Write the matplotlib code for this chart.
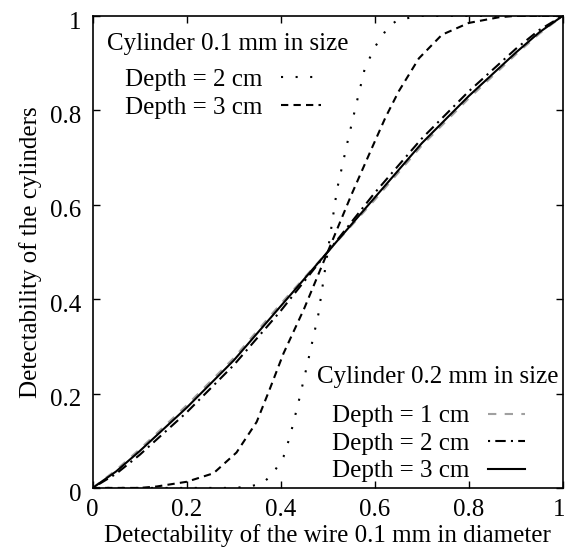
import matplotlib
matplotlib.use("Agg")
import matplotlib.pyplot as plt
import matplotlib.transforms as mtransforms

plt.rcParams['font.family'] = ['Liberation Serif', 'DejaVu Serif']
plt.rcParams['font.size'] = 18

# Cylinder 0.1 mm, depth 2 cm (dotted)
x_c01_d2 = [0, 0.30, 0.335, 0.363, 0.384, 0.406, 0.42, 0.438, 0.456, 0.48, 0.50,
            0.52, 0.544, 0.562, 0.579, 0.601, 0.629, 0.65, 0.70, 1.0]
y_c01_d2 = [0, 0, 0.003, 0.011, 0.031, 0.066, 0.11, 0.182, 0.259, 0.367, 0.5,
            0.633, 0.741, 0.818, 0.889, 0.935, 0.977, 0.992, 1.0, 1.0]

# Cylinder 0.1 mm, depth 3 cm (dashed)
x_c01_d3 = [0, 0.10, 0.136, 0.2, 0.257, 0.306, 0.349, 0.377, 0.406, 0.45, 0.5,
            0.55, 0.594, 0.623, 0.651, 0.694, 0.743, 0.8, 0.864, 0.9, 1.0]
y_c01_d3 = [0, 0, 0.003, 0.013, 0.031, 0.075, 0.14, 0.21, 0.285, 0.38, 0.5,
            0.62, 0.72, 0.785, 0.84, 0.91, 0.96, 0.985, 0.997, 1.0, 1.0]

# Cylinder 0.2 mm, depths 1/2/3 cm
x_c02 = [0, 0.05, 0.1, 0.2, 0.3, 0.4, 0.5, 0.6, 0.7, 0.8, 0.9, 0.95, 1.0]
y_c02_d1 = [0, 0.038, 0.082, 0.175, 0.275, 0.39, 0.5, 0.61, 0.725, 0.825, 0.918, 0.962, 1.0]
y_c02_d2 = [0, 0.030, 0.070, 0.160, 0.260, 0.375, 0.5, 0.625, 0.740, 0.840, 0.930, 0.970, 1.0]
y_c02_d3 = [0, 0.035, 0.078, 0.170, 0.270, 0.385, 0.5, 0.615, 0.730, 0.830, 0.922, 0.965, 1.0]

ticks = [0, 0.2, 0.4, 0.6, 0.8, 1]
tick_labels = ['0', '0.2', '0.4', '0.6', '0.8', '1']

fig = plt.figure(figsize=(5.65, 5.47), dpi=100)
ax = fig.add_axes([0.164, 0.108, 0.832, 0.863])

l_g1, = ax.plot(x_c02, y_c02_d1, color='#a0a0a0', lw=1.5, dashes=(4, 4))
l_d2, = ax.plot(x_c01_d2, y_c01_d2, color='black', lw=1.5, dashes=(1, 6))
l_d3, = ax.plot(x_c01_d3, y_c01_d3, color='black', lw=1.5, dashes=(3.5, 2.5))
l_g2, = ax.plot(x_c02, y_c02_d2, color='black', lw=1.5, dashes=(1, 2.5, 5, 2.5))
l_g3, = ax.plot(x_c02, y_c02_d3, color='black', lw=1.5)

ax.set_xlim(0, 1)
ax.set_ylim(0, 1)
ax.set_xticks(ticks)
ax.set_xticklabels(tick_labels)
ax.set_yticks(ticks)
ax.set_yticklabels(tick_labels)
ax.tick_params(direction='in', top=True, right=True, length=5, width=1)
ax.tick_params(axis='x', pad=8)
ax.tick_params(axis='y', pad=8)
for s in ax.spines.values():
    s.set_linewidth(1.2)

# gnuplot-like small offsets of the tick labels
down = mtransforms.ScaledTranslation(0, -3 / 72, fig.dpi_scale_trans)
for lab in ax.get_yticklabels():
    lab.set_transform(lab.get_transform() + down)
left = mtransforms.ScaledTranslation(-2.5 / 72, 0, fig.dpi_scale_trans)
last = ax.get_xticklabels()[-1]
last.set_transform(last.get_transform() + left)

ax.set_xlabel('Detectability of the wire 0.1 mm in diameter', labelpad=2)
ax.set_ylabel('Detectability of the cylinders', labelpad=6)

# legend for the 0.1 mm cylinder
ax.text(0.031, 0.928, 'Cylinder 0.1 mm in size', transform=ax.transAxes,
        ha='left', va='baseline')
leg1 = ax.legend([l_d2, l_d3], ['Depth = 2 cm', 'Depth = 3 cm'],
                 loc='upper left', bbox_to_anchor=(0.069, 0.888),
                 markerfirst=False, frameon=False, borderpad=0, borderaxespad=0,
                 handlelength=1.6, handletextpad=0.75, labelspacing=0.2,
                 fontsize=18)
ax.add_artist(leg1)

# legend for the 0.2 mm cylinder
ax.text(0.992, 0.222, 'Cylinder 0.2 mm in size', transform=ax.transAxes,
        ha='right', va='baseline')
ax.legend([l_g1, l_g2, l_g3], ['Depth = 1 cm', 'Depth = 2 cm', 'Depth = 3 cm'],
          loc='lower right', bbox_to_anchor=(0.92, 0.012),
          markerfirst=False, frameon=False, borderpad=0, borderaxespad=0,
          handlelength=1.5, handletextpad=0.75, labelspacing=0.2,
          fontsize=18)

fig.savefig('out.png', dpi=100)
